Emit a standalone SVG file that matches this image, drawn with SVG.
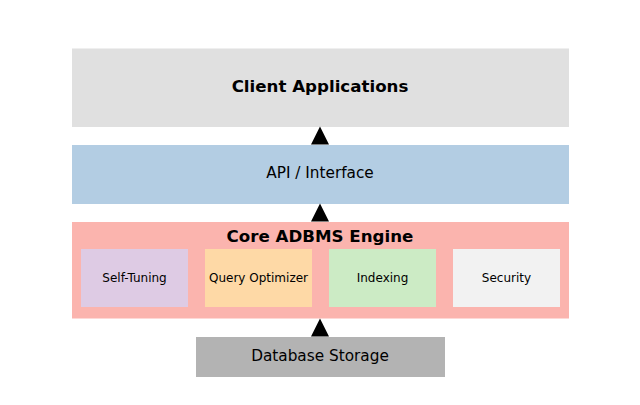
<svg xmlns="http://www.w3.org/2000/svg" width="640" height="405" viewBox="0 0 640 405">
<style>
text{font-family:"DejaVu Sans","Liberation Sans",sans-serif;fill:#000;text-anchor:middle;dominant-baseline:central}
.b{font-weight:bold;font-size:16.67px}
.m{font-size:15.3px}
.s{font-size:12px}
.arr{fill:#000}
</style>
<rect width="640" height="405" fill="#fff"/>
<g id="client">
<rect x="72" y="48.5" width="497" height="78.5" fill="#e0e0e0"/>
<text class="b" x="320" y="86.5">Client Applications</text>
</g>
<g id="api">
<rect x="72" y="145" width="497" height="59" fill="#b3cde3"/>
<text class="m" x="320" y="173">API / Interface</text>
</g>
<g id="core">
<rect x="72" y="222" width="497" height="96.5" fill="#fbb4ae"/>
<text class="b" x="320" y="236">Core ADBMS Engine</text>
</g>
<g id="selftuning">
<rect x="81" y="249" width="107" height="58" fill="#decbe4"/>
<text class="s" x="134.5" y="277.5">Self-Tuning</text>
</g>
<g id="queryoptimizer">
<rect x="205" y="249" width="107" height="58" fill="#fed9a6"/>
<text class="s" x="258.5" y="277.5">Query Optimizer</text>
</g>
<g id="indexing">
<rect x="329" y="249" width="107" height="58" fill="#ccebc5"/>
<text class="s" x="382.5" y="277.5">Indexing</text>
</g>
<g id="security">
<rect x="453" y="249" width="107" height="58" fill="#f2f2f2"/>
<text class="s" x="506.5" y="277.5">Security</text>
</g>
<g id="storage">
<rect x="196" y="337" width="249" height="40" fill="#b3b3b3"/>
<text class="m" x="320" y="356">Database Storage</text>
</g>
<g id="connectors">
<polygon class="arr" points="320,126.5 311,144.5 329,144.5"/>
<polygon class="arr" points="320,203.5 311,221.5 329,221.5"/>
<polygon class="arr" points="320,318.5 311,336.5 329,336.5"/>
</g>
</svg>
